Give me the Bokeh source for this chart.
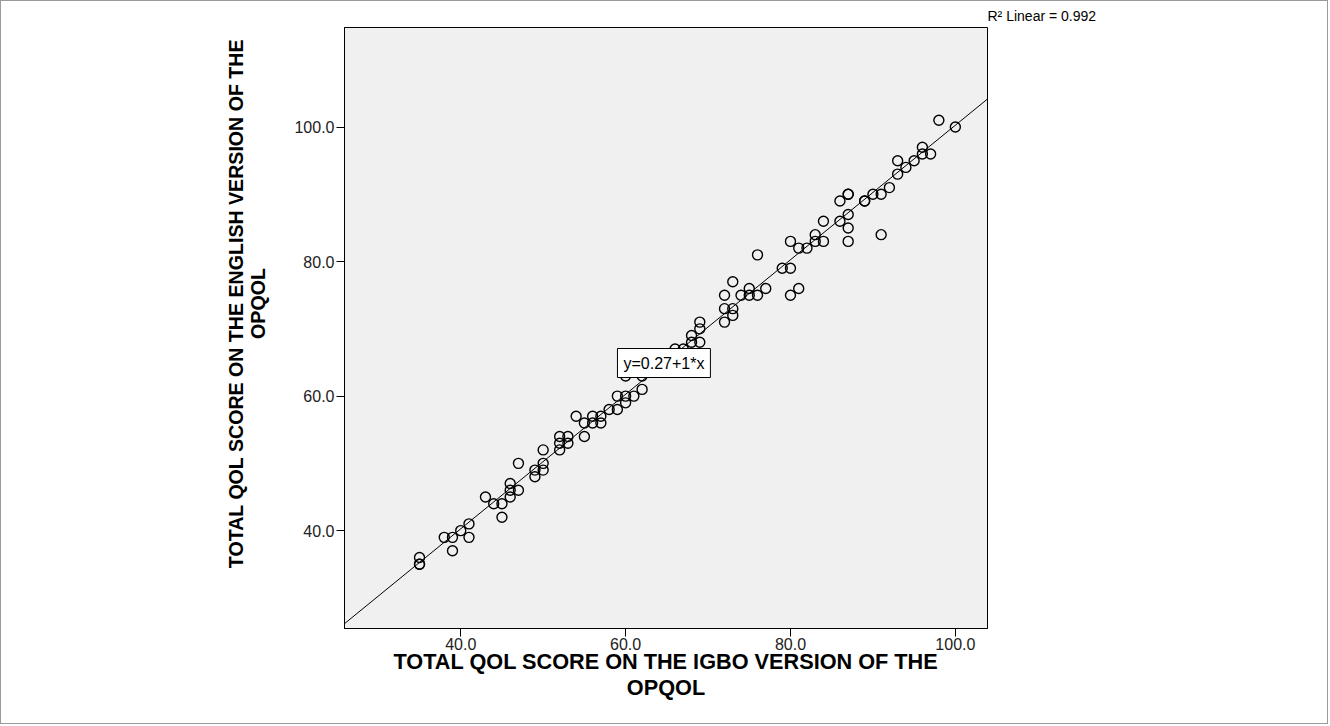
from bokeh.plotting import figure
from bokeh.models import Range1d, Slope, Label, FixedTicker, Title
from bokeh.embed import file_html
from bokeh.resources import INLINE

# ---- data ----
igbo = [35, 35, 35, 38, 39, 39, 40, 41, 41, 43, 44, 45, 45, 46, 46, 46, 47, 47,
        49, 49, 50, 50, 50, 52, 52, 52, 53, 53, 54, 55, 55, 56, 56, 57, 57, 58,
        59, 59, 60, 60, 61, 62, 62, 60, 63, 64, 65, 66, 66, 67, 68, 68, 69, 69,
        69, 72, 72, 73, 73, 72, 74, 75, 75, 76, 77, 73, 76, 79, 80, 80, 81, 80,
        81, 82, 83, 83, 84, 84, 86, 87, 87, 87, 86, 87, 87, 89, 89, 90, 91, 91,
        92, 93, 93, 94, 95, 96, 96, 97, 98, 100]
english = [36, 35, 35, 39, 39, 37, 40, 41, 39, 45, 44, 44, 42, 45, 47, 46, 46, 50,
           48, 49, 50, 49, 52, 53, 54, 52, 54, 53, 57, 54, 56, 57, 56, 57, 56, 58,
           60, 58, 60, 59, 60, 61, 63, 63, 64, 64, 65, 66, 67, 67, 68, 69, 68, 70,
           71, 71, 73, 72, 73, 75, 75, 75, 76, 75, 76, 77, 81, 79, 79, 75, 76, 83,
           82, 82, 83, 84, 83, 86, 86, 85, 83, 87, 89, 90, 90, 89, 89, 90, 90, 84,
           91, 93, 95, 94, 95, 96, 97, 96, 101, 100]
x_ticks = [40, 60, 80, 100]
x_tick_labels = ["40.0", "60.0", "80.0", "100.0"]
y_ticks = [40, 60, 80, 100]
y_tick_labels = ["40.0", "60.0", "80.0", "100.0"]
fit_intercept = 0.27
fit_slope = 1.0
fit_text = "y=0.27+1*x"
r2_text = "R\u00b2 Linear = 0.992"
x_title = ["TOTAL QOL SCORE ON THE IGBO VERSION OF THE", "OPQOL"]
y_title = ["TOTAL QOL SCORE ON THE ENGLISH VERSION OF THE", "OPQOL"]

FONT = "Liberation Sans"

p = figure(width=1328, height=724, output_backend="svg", toolbar_location=None,
           x_range=Range1d(25.9, 103.9), y_range=Range1d(25.45, 114.8),
           min_border_left=343, min_border_right=342, min_border_top=26,
           min_border_bottom=97,
           styles={"border": "1px solid #9a9a9a", "box-sizing": "border-box"})
p.background_fill_color = "#f0f0f0"
p.border_fill_color = "white"
p.outline_line_color = "black"
p.outline_line_width = 1
p.grid.visible = False

for ax, ticks, labels in ((p.xaxis, x_ticks, x_tick_labels), (p.yaxis, y_ticks, y_tick_labels)):
    ax.ticker = FixedTicker(ticks=ticks)
    ax.major_label_overrides = {t: l for t, l in zip(ticks, labels)}
    ax.major_tick_out = 8
    ax.major_tick_in = 0
    ax.minor_tick_line_color = None
    ax.axis_line_color = "black"
    ax.major_tick_line_color = "black"
    ax.major_label_text_font = FONT
    ax.major_label_text_font_size = "16px"
    ax.major_label_text_color = "#222222"
    ax.axis_label_text_font = FONT
    ax.axis_label_text_font_style = "bold"
    ax.axis_label_text_color = "black"

p.xaxis.axis_label_text_font_size = "21.7px"
p.xaxis.axis_label_text_line_height = 1.05
p.yaxis.axis_label_text_font_size = "19.6px"
p.yaxis.axis_label_text_line_height = 1.0
p.xaxis.axis_label = "\n".join(x_title)
# leading no-break spaces lift the vertical title toward the top, as in the reference
pad = "\u00a0" * 9
p.yaxis.axis_label = "\n".join(pad + line for line in y_title)
p.xaxis.major_label_standoff = 1
p.yaxis.major_label_standoff = 2
p.xaxis.axis_label_standoff = -4
p.yaxis.axis_label_standoff = 22

p.add_layout(Slope(gradient=fit_slope, y_intercept=fit_intercept,
                   line_color="black", line_width=1))

p.scatter(igbo, english, marker="circle", size=10, fill_color=None,
          line_color="black", line_width=1.4)

cx = 64.65
p.add_layout(Label(x=cx, y=fit_intercept + fit_slope * cx, text=fit_text,
                   text_align="center", text_baseline="middle",
                   text_font=FONT, text_font_size="16px", text_color="black",
                   background_fill_color="white", border_line_color="black",
                   border_line_width=1, padding=6))

p.add_layout(Title(text=r2_text, align="left", offset=643, standoff=8,
                   text_font=FONT, text_font_size="14px",
                   text_font_style="normal", text_color="black"), "above")

open("out.html", "w").write(file_html(p, INLINE))
